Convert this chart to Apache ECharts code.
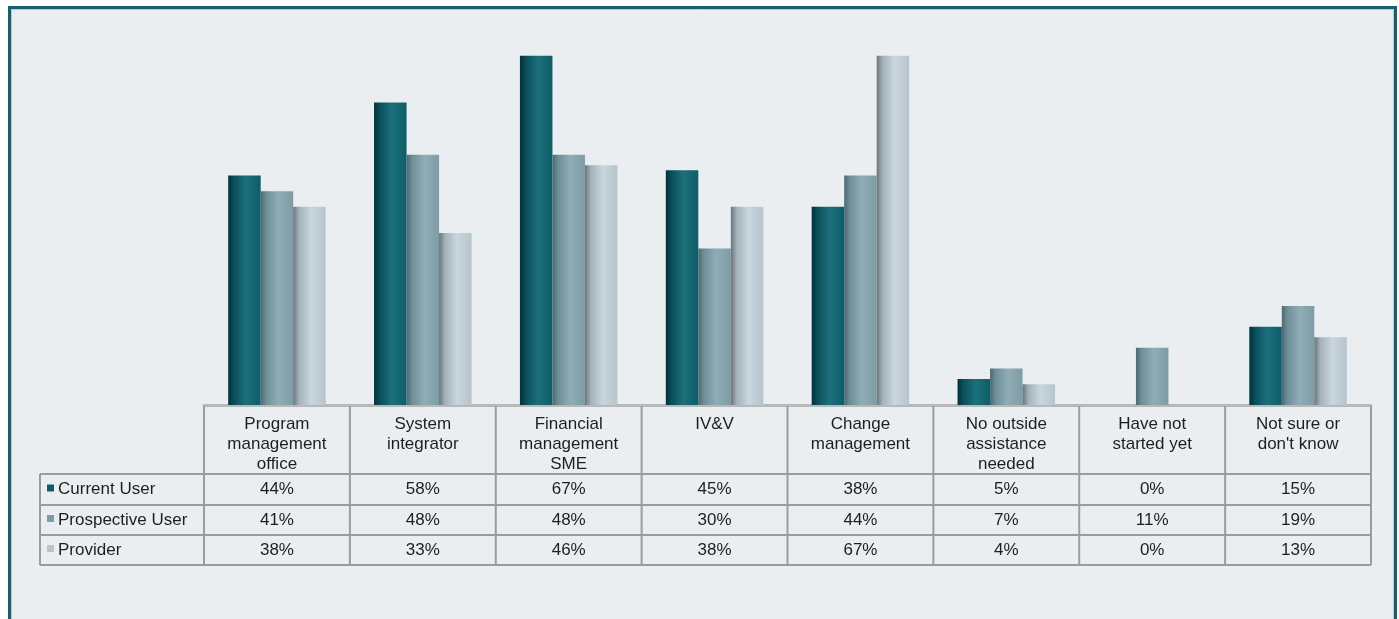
<!DOCTYPE html>
<html>
<head>
<meta charset="utf-8">
<script src="https://cdn.jsdelivr.net/npm/echarts@6/dist/echarts.min.js"></script>
<style>
  html, body { margin: 0; padding: 0; background: #ffffff; }
  #chart { width: 1399px; height: 619px; }
</style>
</head>
<body>
<div id="chart"></div>
<script>
// Survey categories (header row of the data table)
const categories = [
  'Program\nmanagement\noffice',
  'System\nintegrator',
  'Financial\nmanagement\nSME',
  'IV&V',
  'Change\nmanagement',
  'No outside\nassistance\nneeded',
  'Have not\nstarted yet',
  'Not sure or\ndon\'t know'
];
const seriesNames = ['Current User', 'Prospective User', 'Provider'];

// Percent of respondents per group
const currentUser     = [44, 58, 67, 45, 38, 5, 0, 15];
const prospectiveUser = [41, 48, 48, 30, 44, 7, 11, 19];
const provider        = [38, 33, 46, 38, 67, 4, 0, 13];

const seriesData = [currentUser, prospectiveUser, provider];

const FONT = '"Liberation Sans", Arial, Helvetica, sans-serif';
const FONT_SIZE = 17;
const TEXT = '#1e1e1e';
const LINE = '#9c9c9c';

// cylinder-like horizontal shading for each group
const shades = [
  { stops: ['#00323b', '#0a4f5a', '#1c707b', '#0d5d68'], swatch: '#0d5d68' },
  { stops: ['#4c6973', '#6f8f99', '#90adb6', '#7e9ca6'], swatch: '#7e9ca6' },
  { stops: ['#687479', '#a3b1b8', '#c9d6de', '#b6c4cc'], swatch: '#b9c6cd' }
];
function gradient(s) {
  return new echarts.graphic.LinearGradient(0, 0, 1, 0, [
    { offset: 0, color: s[0] },
    { offset: 0.18, color: s[1] },
    { offset: 0.55, color: s[2] },
    { offset: 1, color: s[3] }
  ]);
}

const chart = echarts.init(document.getElementById('chart'), null, { renderer: 'canvas' });

const gridLeft = 204, gridRight = 1371, gridTop = 40, gridBottom = 405;

chart.setOption({
  backgroundColor: '#ffffff',
  animation: false,
  grid: { left: gridLeft, top: gridTop, width: gridRight - gridLeft, height: gridBottom - gridTop },
  xAxis: {
    type: 'category',
    data: categories,
    axisLine: { show: true, lineStyle: { color: '#b8b8b8', width: 3 } },
    axisTick: { show: false },
    axisLabel: {
      interval: 0,
      margin: 9,
      fontFamily: FONT,
      fontSize: FONT_SIZE,
      lineHeight: 20,
      color: TEXT,
      verticalAlign: 'top'
    }
  },
  yAxis: {
    type: 'value',
    min: 0,
    max: 70,
    show: false,
    splitLine: { show: false }
  },
  series: seriesNames.map((name, i) => ({
    name: name,
    type: 'bar',
    data: seriesData[i],
    barWidth: 32.5,
    barGap: '0%',
    itemStyle: {
      color: gradient(shades[i].stops),
      shadowColor: 'rgba(0,0,0,0.28)',
      shadowBlur: 3,
      shadowOffsetX: 1,
      shadowOffsetY: -1
    },
    z: 3
  }))
});

// Data table below the bars
function buildTable() {
  const centers = categories.map((c, i) => chart.convertToPixel({ xAxisIndex: 0 }, i));
  const band = centers[1] - centers[0];
  const bounds = centers.map(c => c - band / 2);
  bounds.push(centers[centers.length - 1] + band / 2);

  const headerBottom = 474;
  const rowTops = [474, 505, 535];
  const rowBottom = 565;
  const tableLeft = 40;
  const elements = [];

  // panel background with teal frame
  elements.push({
    type: 'rect', z: -10, silent: true,
    shape: { x: 9.5, y: 7.5, width: 1386, height: 700 },
    style: { fill: '#ebeef1', stroke: '#165f6c', lineWidth: 3 }
  });
  elements.push({
    type: 'rect', z: -9, silent: true,
    shape: { x: 11.5, y: 9.5, width: 1382, height: 700 },
    style: { fill: 'none', stroke: '#b5ccd3', lineWidth: 1 }
  });

  const hLine = (y, x1, x2) => elements.push({
    type: 'line', z: 5, silent: true,
    shape: { x1: x1, y1: y, x2: x2, y2: y },
    style: { stroke: LINE, lineWidth: 2 }
  });
  const vLine = (x, y1, y2) => elements.push({
    type: 'line', z: 5, silent: true,
    shape: { x1: x, y1: y1, x2: x, y2: y2 },
    style: { stroke: LINE, lineWidth: 2 }
  });

  const right = bounds[bounds.length - 1];
  rowTops.forEach(y => hLine(y, tableLeft, right));
  hLine(rowBottom, tableLeft, right);
  vLine(tableLeft, headerBottom, rowBottom);
  bounds.forEach(x => vLine(x, gridBottom + 1, rowBottom));

  seriesNames.forEach((name, r) => {
    const yMid = (rowTops[r] + (r < 2 ? rowTops[r + 1] : rowBottom)) / 2;
    elements.push({
      type: 'rect', z: 6, silent: true,
      shape: { x: 47, y: yMid - 5, width: 7, height: 7 },
      style: { fill: shades[r].swatch }
    });
    elements.push({
      type: 'text', z: 6, silent: true,
      x: 58, y: yMid,
      style: {
        text: name, fill: TEXT, font: FONT_SIZE + 'px ' + FONT,
        textAlign: 'left', textVerticalAlign: 'middle'
      }
    });
    seriesData[r].forEach((v, i) => {
      elements.push({
        type: 'text', z: 6, silent: true,
        x: centers[i], y: yMid,
        style: {
          text: v + '%', fill: TEXT, font: FONT_SIZE + 'px ' + FONT,
          textAlign: 'center', textVerticalAlign: 'middle'
        }
      });
    });
  });

  chart.setOption({ graphic: { elements: elements } });
}
buildTable();
</script>
</body>
</html>
